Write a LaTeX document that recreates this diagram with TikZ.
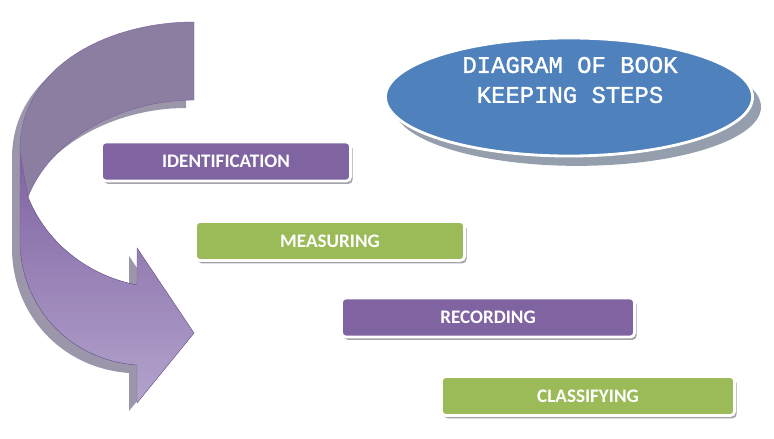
\documentclass[tikz,border=0pt]{standalone}
\usepackage{fontspec}
\setmainfont{Carlito}
\newfontfamily\courierfam[FakeBold=1.2]{Liberation Mono}
\usetikzlibrary{shapes.geometric,shadows}
\definecolor{stepviolet}{HTML}{8064A2}
\definecolor{stepgreen}{HTML}{9BBB59}
\definecolor{titleblue}{HTML}{4F81BD}
\definecolor{titleshadow}{HTML}{949EAC}
\definecolor{boxshadow}{HTML}{A5A2AA}
\definecolor{arrowback}{HTML}{8C7EA0}
\definecolor{arrowtop}{HTML}{7E62A1}
\definecolor{arrowbottom}{HTML}{B3A3CC}
\definecolor{arrowshade}{HTML}{9C96AA}
\definecolor{arrowedge}{HTML}{7A60A0}

\begin{document}
\begin{tikzpicture}[x=0.025cm,y=-0.025cm,
  stepbox/.style = {draw=white,line width=2pt,rounded corners=3pt,minimum height=0.975cm,inner sep=0pt,
    text=white,font=\bfseries\fontsize{13.6}{16}\selectfont,
    drop shadow={shadow xshift=1.5pt,shadow yshift=-2pt,fill=boxshadow,opacity=1}},
  titlebubble/.style = {ellipse,draw=white,line width=2pt,fill=titleblue,inner sep=0pt,
    minimum width=9.175cm,minimum height=2.95cm,
    drop shadow={shadow xshift=6pt,shadow yshift=-7pt,fill=titleshadow,opacity=1}},
  titletext/.style = {text=white,align=center,font=\courierfam\fontsize{17}{21.3}\selectfont}]
\useasboundingbox (0,0) rectangle (774,439);

\fill[arrowshade,shift={(-8,8)}] (194,22) .. controls (110,22) and (20,65) .. (20,150) -- (20,240)
  .. controls (20,305) and (68,360) .. (137,365) -- (137,403) -- (194,333) -- (137,248) -- (137,285)
  .. controls (85,275) and (45,240) .. (28,197) .. controls (50,140) and (120,100) .. (194,100) -- cycle;
\fill[top color=arrowtop,bottom color=arrowbottom,draw=arrowedge,line width=0.3pt]
  (20,150) -- (20,240) .. controls (20,305) and (68,360) .. (137,365) -- (137,403) -- (194,333)
  -- (137,248) -- (137,285) .. controls (85,275) and (45,240) .. (28,197) .. controls (26,185) and (23,170) .. cycle;
\fill[arrowback,draw=arrowedge,line width=0.3pt] (194,22) .. controls (110,22) and (20,65) .. (20,150)
  .. controls (23,170) and (26,185) .. (28,197) .. controls (50,140) and (120,100) .. (194,100) -- cycle;

\node[titlebubble] (title) at (569,97) {};
\node[titletext] (titlelabel) at (570,80) {DIAGRAM OF BOOK\\KEEPING STEPS};

\node[stepbox,fill=stepviolet,minimum width=6.225cm] (ident) at (226,161.5) {IDENTIFICATION};
\node[stepbox,fill=stepgreen,minimum width=6.725cm] (measure) at (330,241) {MEASURING};
\node[stepbox,fill=stepviolet,minimum width=7.325cm] (record) at (488,317.5) {RECORDING};
\node[stepbox,fill=stepgreen,minimum width=7.325cm] (classify) at (588,396) {CLASSIFYING};
\end{tikzpicture}
\end{document}
